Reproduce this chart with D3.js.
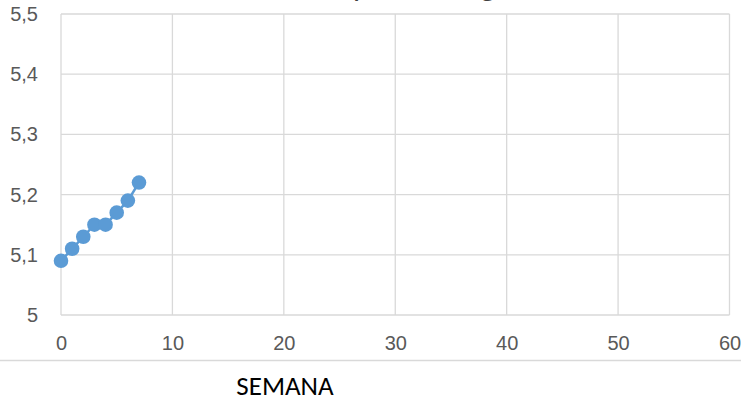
<!DOCTYPE html>
<html><head><meta charset="utf-8">
<script src="https://cdn.jsdelivr.net/npm/d3@7"></script>
<style>
html,body{margin:0;padding:0;background:#fff;}
svg{display:block;font-family:Carlito, Calibri, Lato, "Open Sans", sans-serif;}
</style></head>
<body>
<svg id="c" width="741" height="401"></svg>
<script>
const semanas = [0, 1, 2, 3, 4, 5, 6, 7];
const pesos = [5.09, 5.11, 5.13, 5.15, 5.15, 5.17, 5.19, 5.22];
const xTicks = [0, 10, 20, 30, 40, 50, 60];
const yTicks = [5, 5.1, 5.2, 5.3, 5.4, 5.5];
const titulo = "Peso y talla en g";
const xTitulo = "SEMANA";

const svg = d3.select("#c");
const x = d3.scaleLinear().domain([0, 60]).range([61, 729.5]);
const y = d3.scaleLinear().domain([5, 5.5]).range([315, 14]);
const fmt = v => d3.format(".1f")(v).replace(".", ",").replace(/,0$/, "");

// grid
svg.append("g").selectAll("line.v").data(xTicks).join("line")
  .attr("x1", d => x(d)).attr("x2", d => x(d)).attr("y1", y(5.5)).attr("y2", y(5))
  .attr("stroke", "#d9d9d9").attr("stroke-width", 1.3);
svg.append("g").selectAll("line.h").data(yTicks).join("line")
  .attr("x1", x(0)).attr("x2", x(60)).attr("y1", d => y(d)).attr("y2", d => y(d))
  .attr("stroke", "#d9d9d9").attr("stroke-width", 1.3);

// axes labels
const xAxis = d3.axisBottom(x).tickValues(xTicks).tickSize(0).tickPadding(21).tickFormat(d => d);
const gx = svg.append("g").attr("transform", `translate(0,${y(5)})`).call(xAxis);
gx.select(".domain").remove();
gx.selectAll("text").attr("fill", "#595959").style("font-size", "20px").style("font-family", null);

const yAxis = d3.axisLeft(y).tickValues(yTicks).tickSize(0).tickPadding(23).tickFormat(fmt);
const gy = svg.append("g").attr("transform", `translate(${x(0)},0)`).call(yAxis);
gy.select(".domain").remove();
gy.selectAll("text").attr("fill", "#595959").style("font-size", "20px").style("font-family", null);

// line + markers
const pts = semanas.map((s, i) => [s, pesos[i]]);
svg.append("path").datum(pts)
  .attr("fill", "none").attr("stroke", "#5b9bd5").attr("stroke-width", 2.5)
  .attr("d", d3.line().x(d => x(d[0])).y(d => y(d[1])));
svg.append("g").selectAll("circle").data(pts).join("circle")
  .attr("cx", d => x(d[0])).attr("cy", d => y(d[1])).attr("r", 7.3)
  .attr("fill", "#5b9bd5");

// separator and titles
svg.append("line").attr("x1", 0).attr("x2", 741).attr("y1", 360.5).attr("y2", 360.5)
  .attr("stroke", "#d9d9d9").attr("stroke-width", 1.5);
svg.append("text").attr("x", 285).attr("y", 395).attr("text-anchor", "middle")
  .attr("fill", "#000").style("font-size", "27px").text(xTitulo);
svg.append("text").attr("x", 281).attr("y", -4).attr("text-anchor", "start")
  .attr("fill", "#404040").style("font-size", "33px").text(titulo);
</script>
</body></html>
